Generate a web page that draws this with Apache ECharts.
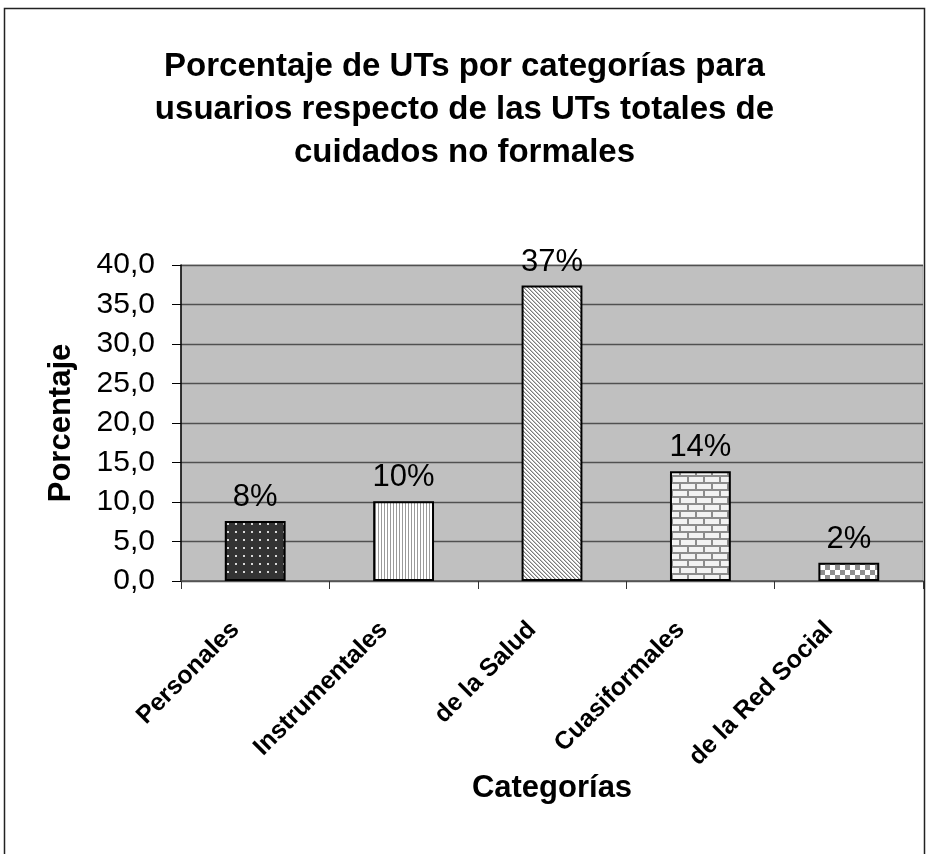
<!DOCTYPE html>
<html>
<head>
<meta charset="utf-8">
<script src="https://cdn.jsdelivr.net/npm/echarts@6/dist/echarts.min.js"></script>
<style>
html,body{margin:0;padding:0;background:#fff;}
#chart{width:929px;height:854px;}
</style>
</head>
<body>
<div id="chart"></div>
<script>
// ---- data ----
const titleText = 'Porcentaje de UTs por categorías para\nusuarios respecto de las UTs totales de\ncuidados no formales';
const categories = ['Personales', 'Instrumentales', 'de la Salud', 'Cuasiformales', 'de la Red Social'];
const values = [7.6, 10.1, 37.4, 13.9, 2.3];
const yTicks = { min: 0, max: 40, interval: 5 };
const yAxisName = 'Porcentaje';
const xAxisName = 'Categorías';

// ---- pattern helpers (styling only) ----
function mk(w, h, draw) {
  const c = document.createElement('canvas');
  c.width = w; c.height = h;
  const g = c.getContext('2d');
  draw(g, w, h);
  return c;
}
const patDots = mk(8, 8, (g) => {
  g.fillStyle = '#333333'; g.fillRect(0, 0, 8, 8);
  g.fillStyle = '#d8d8d8'; g.fillRect(3, 3, 2, 2);
});
const patVert = mk(3, 3, (g) => {
  g.fillStyle = '#ffffff'; g.fillRect(0, 0, 3, 3);
  g.fillStyle = '#9a9a9a'; g.fillRect(0, 0, 1, 3);
});
const patDiag = mk(4, 4, (g) => {
  g.fillStyle = '#ffffff'; g.fillRect(0, 0, 4, 4);
  for (let i = 0; i < 4; i++) {
    g.fillStyle = '#7a7a7a'; g.fillRect(i, i, 1, 1);
    g.fillStyle = '#c4c4c4'; g.fillRect((i + 1) % 4, i, 1, 1);
  }
});
const patBrick = mk(16, 14, (g) => {
  g.fillStyle = '#8c8c8c'; g.fillRect(0, 0, 16, 14);
  g.fillStyle = '#f2f2f2';
  g.fillRect(1, 1, 14, 5);
  g.fillRect(0, 8, 7, 5);
  g.fillRect(9, 8, 7, 5);
});
const patCheck = mk(10, 10, (g) => {
  g.fillStyle = '#ffffff'; g.fillRect(0, 0, 10, 10);
  g.fillStyle = '#8f8f8f'; g.fillRect(0, 0, 5, 5); g.fillRect(5, 5, 5, 5);
});
const patterns = [patDots, patVert, patDiag, patBrick, patCheck];

const chart = echarts.init(document.getElementById('chart'), null, { renderer: 'canvas' });
const FONT = '"Liberation Sans", Arial, sans-serif';

chart.setOption({
  backgroundColor: '#ffffff',
  animation: false,
  title: {
    text: titleText,
    left: 'center',
    top: 40,
    textStyle: { fontFamily: FONT, fontWeight: 'bold', fontSize: 33, lineHeight: 43, color: '#000' }
  },
  graphic: [{
    type: 'rect',
    shape: { x: 4.5, y: 8.5, width: 920, height: 900 },
    style: { fill: null, stroke: '#222', lineWidth: 1.5 },
    silent: true, z: -1
  }],
  grid: {
    left: 181, top: 265, width: 742, height: 316,
    show: true, backgroundColor: '#c0c0c0', borderColor: '#a8a8a8', borderWidth: 1
  },
  xAxis: {
    type: 'category',
    data: categories,
    name: xAxisName,
    nameLocation: 'middle',
    nameGap: 185,
    nameTextStyle: { fontFamily: FONT, fontWeight: 'bold', fontSize: 31, color: '#000', verticalAlign: 'top' },
    axisLine: { lineStyle: { color: '#555', width: 1.5 } },
    axisTick: { show: true, length: 8, lineStyle: { color: '#333' } },
    axisLabel: {
      rotate: 45, interval: 0, margin: 25,
      padding: [0, 28, 0, 0],
      fontFamily: FONT, fontWeight: 'bold', fontSize: 25, color: '#000'
    },
    splitLine: { show: false }
  },
  yAxis: {
    type: 'value',
    min: yTicks.min, max: yTicks.max, interval: yTicks.interval,
    name: yAxisName,
    nameLocation: 'middle',
    nameGap: 104,
    nameTextStyle: { fontFamily: FONT, fontWeight: 'bold', fontSize: 31, color: '#000' },
    axisLine: { show: true, lineStyle: { color: '#000', width: 1.5 } },
    axisTick: { show: true, length: 9, lineStyle: { color: '#000' } },
    axisLabel: {
      margin: 26,
      fontFamily: FONT, fontSize: 30, color: '#000',
      formatter: (v) => v.toFixed(1).replace('.', ',')
    },
    splitLine: { show: true, lineStyle: { color: '#505050', width: 1.3 } }
  },
  series: [{
    type: 'bar',
    barWidth: '41%',
    data: values.map((v, i) => ({
      value: v,
      itemStyle: { color: { image: patterns[i], repeat: 'repeat' } }
    })),
    itemStyle: { borderColor: '#000', borderWidth: 2 },
    label: {
      show: true, position: 'top', distance: 8,
      fontFamily: FONT, fontSize: 31, color: '#000',
      formatter: (p) => Math.round(p.value) + '%'
    }
  }]
});
</script>
</body>
</html>
